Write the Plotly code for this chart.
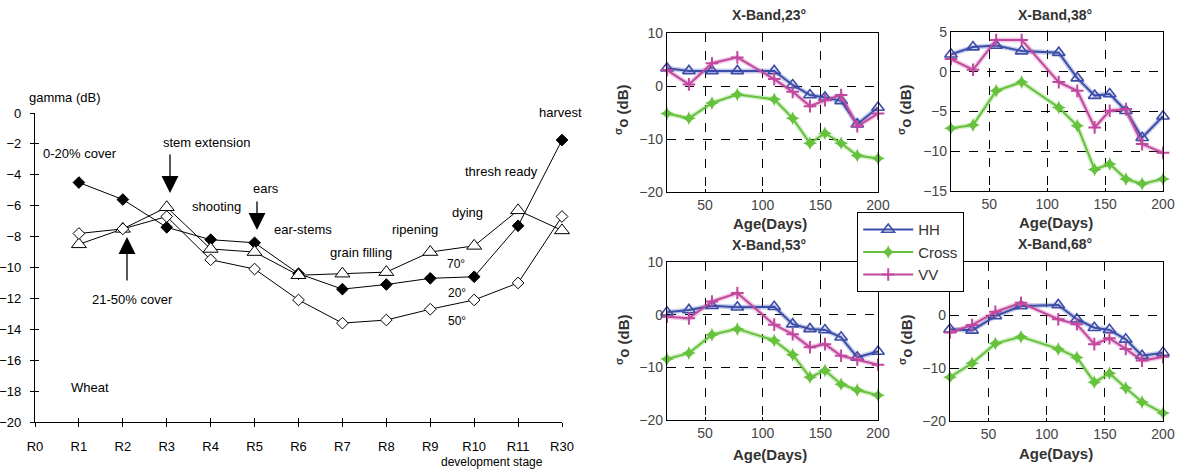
import plotly.graph_objects as go

W, H = 1180, 471
def px(x): return x / W
def py(y): return 1 - y / H

# ---------------- Left chart data ----------------
stages = ["R0", "R1", "R2", "R3", "R4", "R5", "R6", "R7", "R8", "R9", "R10", "R11", "R30"]
stages_obs = stages[1:]
gamma_20 = [-4.5, -5.6, -7.4, -8.2, -8.4, -10.4, -11.4, -11.1, -10.7, -10.6, -7.3, -1.75]
gamma_70 = [-8.5, -7.5, -6.1, -8.8, -9.0, -10.5, -10.4, -10.3, -9.0, -8.6, -6.3, -7.6]
gamma_50 = [-7.8, -7.5, -6.7, -9.5, -10.1, -12.1, -13.6, -13.4, -12.7, -12.1, -11.0, -6.7]

# ---------------- Right charts data ----------------
age_days = [17, 36, 56, 78, 110, 126, 141, 154, 168, 182, 200]
hh_23 = [3.35, 2.85, 2.85, 2.85, 2.85, 0.2, -1.7, -2.15, -2.8, -7.2, -4.05]
cross_23 = [-5.2, -6.1, -3.2, -1.6, -2.5, -6.1, -10.8, -8.9, -10.8, -13.1, -13.7]
vv_23 = [3.0, 0.3, 4.3, 5.4, 1.3, -1.1, -3.8, -2.7, -1.7, -7.6, -5.2]

hh_38 = [2.2, 3.1, 3.3, 2.6, 2.4, -0.8, -3.0, -2.8, -4.9, -8.3, -5.6]
cross_38 = [-7.1, -6.7, -2.4, -1.3, -4.5, -6.8, -12.3, -11.6, -13.5, -14.1, -13.5]
vv_38 = [1.6, 0.25, 4.0, 4.0, -1.3, -2.4, -7.0, -4.9, -4.7, -9.1, -10.2]

hh_53 = [0.45, 0.9, 1.7, 1.4, 1.5, -1.8, -2.7, -2.9, -4.3, -8.1, -7.0]
cross_53 = [-8.4, -7.3, -3.8, -2.7, -4.9, -7.6, -11.9, -10.6, -13.2, -14.3, -15.3]
vv_53 = [-0.4, -0.7, 2.5, 4.1, -1.9, -3.7, -6.2, -5.6, -7.8, -8.5, -9.5]

hh_68 = [-2.7, -2.9, -0.2, 1.7, 1.9, -0.8, -2.4, -2.8, -4.6, -7.7, -7.1]
cross_68 = [-11.75, -9.1, -5.4, -4.1, -6.4, -8.0, -12.7, -11.0, -13.75, -16.4, -18.5]
vv_68 = [-3.3, -1.9, 0.6, 2.3, -0.8, -1.75, -5.5, -4.4, -6.4, -8.6, -7.9]

panel_titles = ["X-Band,23°", "X-Band,38°", "X-Band,53°", "X-Band,68°"]
series_names = ["HH", "Cross", "VV"]

FONT = "Liberation Sans, Arial, sans-serif"
BLUE, GREEN, MAG = "#3b4da8", "#66c23c", "#c2489f"
HALO = {BLUE: "rgba(59,77,168,0.28)", GREEN: "rgba(102,194,60,0.28)", MAG: "rgba(194,72,159,0.28)"}

fig = go.Figure()

# ---------------- Left chart ----------------
left_series = [
    (gamma_20, dict(symbol="diamond", size=9, color="black", line=dict(color="black", width=1))),
    (gamma_70, dict(symbol="triangle-up", size=13, color="white", line=dict(color="black", width=1))),
    (gamma_50, dict(symbol="diamond", size=9, color="white", line=dict(color="black", width=1))),
]
for vals, mk in left_series:
    fig.add_trace(go.Scatter(x=stages_obs, y=vals, mode="lines+markers",
                             line=dict(color="black", width=1), marker=mk,
                             xaxis="x", yaxis="y", showlegend=False, cliponaxis=False))
# dummy for overlay tick axes
fig.add_trace(go.Scatter(x=[], y=[], xaxis="x6", yaxis="y6", showlegend=False))

# ---------------- Right charts ----------------
panels = [
    (hh_23, cross_23, vv_23),
    (hh_38, cross_38, vv_38),
    (hh_53, cross_53, vv_53),
    (hh_68, cross_68, vv_68),
]
styles = [
    (BLUE, dict(symbol="triangle-up-open", size=11, line=dict(width=1.6, color=BLUE), color=BLUE)),
    (GREEN, dict(symbol="star-diamond", size=10, color=GREEN, line=dict(width=0))),
    (MAG, dict(symbol="cross-thin-open", size=9, line=dict(width=2, color=MAG), color=MAG)),
]
for i, vals in enumerate(panels):
    ax = str(i + 2)
    for j, (v, (col, mk)) in enumerate(zip(vals, styles)):
        fig.add_trace(go.Scatter(x=age_days, y=v, mode="lines", line=dict(color=HALO[col], width=5),
                                 xaxis="x" + ax, yaxis="y" + ax, showlegend=False,
                                 hoverinfo="skip", cliponaxis=False))
    for j, (v, (col, mk)) in enumerate(zip(vals, styles)):
        fig.add_trace(go.Scatter(x=age_days, y=v, mode="lines+markers", name=series_names[j],
                                 line=dict(color=col, width=2), marker=mk,
                                 xaxis="x" + ax, yaxis="y" + ax, showlegend=(i == 0),
                                 legendgroup=series_names[j], cliponaxis=False))

layout = dict(
    width=W, height=H, margin=dict(l=0, r=0, t=0, b=0, autoexpand=False),
    paper_bgcolor="white", plot_bgcolor="white",
    font=dict(family=FONT, color="black", size=13),
    showlegend=True,
    legend=dict(x=px(857), y=py(212), xanchor="left", yanchor="top",
                bgcolor="white", bordercolor="black", borderwidth=1.2,
                font=dict(size=15, color="#333", family=FONT),
                traceorder="grouped", tracegroupgap=0, itemwidth=50),
)

# left axes
layout["xaxis"] = dict(domain=[px(35), px(562)], type="category", categoryarray=stages, range=[0, 12],
                       anchor="y", showline=True, linecolor="black", linewidth=1.2, automargin=False,
                       ticks="outside", ticklen=4, tickcolor="black", showgrid=False, zeroline=False,
                       tickfont=dict(size=13), ticklabelstandoff=8)
layout["yaxis"] = dict(domain=[py(422), py(113)], range=[-20, 0], dtick=2, anchor="x",
                       showline=True, linecolor="black", linewidth=1.2, automargin=False,
                       ticks="outside", ticklen=4, tickcolor="black", showgrid=False, zeroline=False,
                       tickfont=dict(size=13), ticklabelstandoff=6)
layout["xaxis6"] = dict(domain=[px(35), px(562)], type="category", categoryarray=stages, range=[0, 12],
                        overlaying="x", anchor="y6", ticks="inside", ticklen=4, tickcolor="black",
                        automargin=False,
                        showticklabels=False, showgrid=False, zeroline=False, showline=False)
layout["yaxis6"] = dict(domain=[py(422), py(113)], range=[-20, 0], dtick=2, overlaying="y", anchor="x6",
                        ticks="inside", ticklen=4, tickcolor="black", automargin=False,
                        showticklabels=False, showgrid=False, zeroline=False, showline=False)

# right axes
right_dom = [
    ([px(667), px(878)], [py(192), py(33)], [-20, 10], [-20, -10, 0, 10]),
    ([px(951), px(1163)], [py(191), py(32)], [-15, 5], [-15, -10, -5, 0, 5]),
    ([px(667), px(878)], [py(420), py(262)], [-20, 10], [-20, -10, 0, 10]),
    ([px(950), px(1163)], [py(421), py(262)], [-20, 10], [-20, -10, 0]),
]
for i, (xd, yd, yr, yt) in enumerate(right_dom):
    ax = str(i + 2)
    common = dict(showline=True, mirror=True, linecolor="black", linewidth=1.3,
                  ticks="inside", ticklen=3, tickcolor="black", automargin=False,
                  showgrid=True, gridcolor="black", griddash="dash", gridwidth=1,
                  zeroline=False, tickfont=dict(size=14, color="#444", family=FONT))
    layout["xaxis" + ax] = dict(domain=xd, range=[17, 200], tickvals=[50, 100, 150, 200],
                                anchor="y" + ax, **common)
    layout["yaxis" + ax] = dict(domain=yd, range=yr, tickvals=yt, anchor="x" + ax, **common)

fig.update_layout(**layout)

# ---------------- Annotations ----------------
def txt(x, y, s, size=13, color="black", bold=False, angle=0):
    if bold:
        s = "<b>" + s + "</b>"
    fig.add_annotation(x=px(x), y=py(y), xref="paper", yref="paper", text=s, showarrow=False,
                       font=dict(size=size, color=color, family=FONT), textangle=angle,
                       xanchor="center", yanchor="middle")

def arrow(x, y_tip, y_tail):
    fig.add_annotation(x=px(x), y=py(y_tip), xref="paper", yref="paper", text="",
                       showarrow=True, ax=0, ay=y_tail - y_tip, axref="pixel", ayref="pixel",
                       arrowhead=2, arrowsize=2.6, arrowwidth=1.3, arrowcolor="black")

txt(65, 98, "gamma (dB)")
txt(80, 154, "0-20% cover")
txt(206, 143, "stem extension")
arrow(170, 193, 153)
txt(266, 188, "ears")
arrow(257, 230, 200)
txt(216, 206, "shooting")
txt(303, 229, "ear-stems")
txt(361, 252, "grain filling")
txt(415, 229, "ripening")
txt(467, 212, "dying")
txt(501, 172, "thresh ready")
txt(560, 113, "harvest")
txt(456, 264, "70°", size=12)
txt(457, 293, "20°", size=12)
txt(457, 321, "50°", size=12)
txt(132, 299, "21-50% cover")
arrow(127, 237, 282)
txt(90, 387, "Wheat")
txt(492, 462, "development stage", size=12)

title_pos = [(769, 15), (1055, 15), (769, 245), (1055, 244)]
age_pos = [(770, 223), (1056, 222), (770, 454), (1056, 453)]
ylab_pos = [(622, 110), (905, 110), (622, 340), (905, 340)]
for t, (tx, ty), (agx, agy), (yx, yy) in zip(panel_titles, title_pos, age_pos, ylab_pos):
    txt(tx, ty, t, size=14, color="#333", bold=True)
    txt(agx, agy, "Age(Days)", size=15, color="#333", bold=True)
    txt(yx, yy, "<sup>σ</sup>o (dB)", size=15, color="#333", bold=True, angle=-90)

fig.write_html("out.html", config={"displayModeBar": False},
               post_script="document.body.style.margin='0';document.body.style.overflow='hidden';")
